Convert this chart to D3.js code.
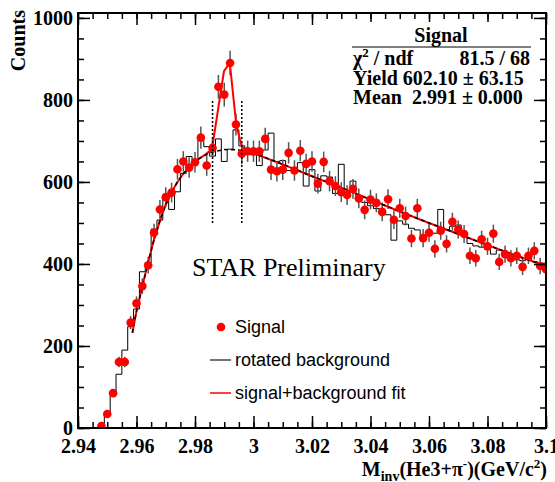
<!DOCTYPE html>
<meta charset="utf-8">
<head>
  <style>
    body { margin: 0; background: #fff; }
    .axis-label { font-family: "Liberation Serif", "Times New Roman", serif; font-weight: bold; font-size: 20px; fill: #000; }
    .stats { font-family: "Liberation Serif", "Times New Roman", serif; font-weight: bold; font-size: 20px; fill: #000; }
    .legend { font-family: "Liberation Sans", Arial, sans-serif; font-size: 18px; fill: #000; }
    .star { font-family: "Liberation Serif", "Times New Roman", serif; font-size: 26px; fill: #000; }
  </style>
</head>
<script src="https://d3js.org/d3.v7.min.js"></script>
<div id="my_dataviz"></div>
<script>
// frame of the pad
const WIDTH = 555;
const HEIGHT = 482;
const LEFT = 78, RIGHT = 546, TOP = 13, BOTTOM = 428;

// bin centres, GeV/c^2 (2 MeV bins)
const massBins = [2.948, 2.950, 2.952, 2.954, 2.956, 2.958, 2.960, 2.962, 2.964, 2.966,
  2.968, 2.970, 2.972, 2.974, 2.976, 2.978, 2.980, 2.982, 2.984, 2.986,
  2.988, 2.990, 2.992, 2.994, 2.996, 2.998, 3.000, 3.002, 3.004, 3.006,
  3.008, 3.010, 3.012, 3.014, 3.016, 3.018, 3.020, 3.022, 3.024, 3.026,
  3.028, 3.030, 3.032, 3.034, 3.036, 3.038, 3.040, 3.042, 3.044, 3.046,
  3.048, 3.050, 3.052, 3.054, 3.056, 3.058, 3.060, 3.062, 3.064, 3.066,
  3.068, 3.070, 3.072, 3.074, 3.076, 3.078, 3.080, 3.082, 3.084, 3.086,
  3.088, 3.090, 3.092, 3.094, 3.096, 3.098, 3.100];

// same-event (signal) counts and errors
const signalCounts = [5, 34, 85, 161, 161, 257, 304, 346, 397, 476,
  533, 563, 574, 631, 650, 635, 648, 708, 640, 683,
  832, 813, 890, 740, 669, 675, 675, 675, 705, 630,
  626, 630, 671, 628, 676, 644, 650, 596, 649, 602,
  590, 575, 568, 583, 560, 532, 557, 549, 527, 558,
  508, 536, 517, 462, 536, 463, 476, 437, 481, 449,
  503, 484, 473, 420, 414, 460, 443, 474, 405, 424,
  414, 420, 393, 420, 432, 395, 387];
const signalErrors = [2, 6, 9, 13, 13, 16, 17, 19, 20, 22,
  23, 24, 24, 25, 25, 25, 25, 27, 25, 26,
  29, 29, 30, 27, 26, 26, 26, 26, 27, 25,
  25, 25, 26, 25, 26, 25, 25, 24, 25, 25,
  24, 24, 24, 24, 24, 23, 24, 23, 23, 24,
  23, 23, 23, 21, 23, 22, 22, 21, 22, 21,
  22, 22, 22, 20, 20, 21, 21, 22, 20, 21,
  20, 20, 20, 20, 21, 20, 20];

// rotated background histogram
const rotatedBkg = [3, 34, 80, 131, 190, 247, 290, 381, 403, 485,
  507, 568, 533, 576, 621, 662, 652, 702, 686, 663,
  705, 650, 680, 727, 688, 678, 666, 640, 678, 719,
  650, 652, 628, 623, 647, 590, 630, 578, 615, 612,
  572, 643, 574, 602, 558, 550, 542, 535, 527, 520,
  458, 505, 497, 487, 483, 466, 471, 475, 533, 483,
  492, 495, 471, 450, 444, 441, 436, 424, 434, 418,
  418, 410, 408, 420, 406, 395, 402];

// fit curves
const bkgFitMass = [2.9586, 2.960, 2.962, 2.964, 2.966, 2.968, 2.970, 2.972, 2.974, 2.976,
  2.978, 2.980, 2.983, 2.986, 2.990, 2.995, 3.000, 3.010, 3.020, 3.030,
  3.040, 3.050, 3.060, 3.070, 3.080, 3.090, 3.100];
const bkgFitCounts = [232, 285, 345, 405, 460, 505, 545, 575, 600, 620,
  636, 650, 664, 673, 679, 678, 670, 643, 614, 586,
  557, 528, 500, 473, 446, 420, 395];
const totalFitMass = [2.9586, 2.960, 2.962, 2.964, 2.966, 2.968, 2.970, 2.972, 2.974, 2.976,
  2.978, 2.980, 2.983, 2.9858, 2.9899, 2.9919, 2.9941, 2.9960, 2.9975, 3.000,
  3.010, 3.020, 3.030, 3.040, 3.050, 3.060, 3.070, 3.080, 3.090, 3.100];
const totalFitCounts = [232, 285, 345, 405, 460, 505, 545, 575, 600, 620,
  636, 650, 664, 680, 870, 890, 740, 686, 677, 670,
  643, 614, 586, 557, 528, 500, 473, 446, 420, 395];

// signal window
const windowEdges = [2.986, 2.996];
const windowRange = [500, 800];

const xTicks = [2.94, 2.96, 2.98, 3.0, 3.02, 3.04, 3.06, 3.08, 3.1];
const xTickLabels = ["2.94", "2.96", "2.98", "3", "3.02", "3.04", "3.06", "3.08", "3.1"];
const yTicks = [0, 200, 400, 600, 800, 1000];
const yTickLabels = ["0", "200", "400", "600", "800", "1000"];

const BIN_HALF = 0.001;

var svg = d3.select("#my_dataviz")
  .append("svg")
  .attr("width", WIDTH)
  .attr("height", HEIGHT)
  .style("display", "block");

svg.append("rect").attr("width", WIDTH).attr("height", HEIGHT).attr("fill", "#fff");

var x = d3.scaleLinear().domain([2.94, 3.1]).range([LEFT, RIGHT]);
var y = d3.scaleLinear().domain([0, 1012]).range([BOTTOM, TOP]);

svg.append("clipPath").attr("id", "frame-clip")
  .append("rect")
  .attr("x", LEFT).attr("y", TOP)
  .attr("width", RIGHT - LEFT).attr("height", BOTTOM - TOP);

var plot = svg.append("g").attr("clip-path", "url(#frame-clip)");

// rotated background as a step histogram
var stepPts = [[massBins[0] - BIN_HALF, 0]];
massBins.forEach((m, i) => {
  stepPts.push([m - BIN_HALF, rotatedBkg[i]]);
  stepPts.push([m + BIN_HALF, rotatedBkg[i]]);
});
plot.append("path")
  .attr("d", d3.line().x(d => x(d[0])).y(d => y(d[1]))(stepPts))
  .attr("fill", "none")
  .attr("stroke", "#000")
  .attr("stroke-width", 1);

// error bars
plot.selectAll(".err")
  .data(massBins)
  .enter()
  .append("line")
  .attr("x1", d => x(d)).attr("x2", d => x(d))
  .attr("y1", (d, i) => y(signalCounts[i] - signalErrors[i]))
  .attr("y2", (d, i) => y(signalCounts[i] + signalErrors[i]))
  .attr("stroke", "#555")
  .attr("stroke-width", 1.5);

// fits: total in red, background dashed black on top
var fitLine = d3.line().x(d => x(d[0])).y(d => y(d[1]));
plot.append("path")
  .attr("d", fitLine(d3.zip(totalFitMass, totalFitCounts)))
  .attr("fill", "none")
  .attr("stroke", "#ff0000")
  .attr("stroke-width", 2);
plot.append("path")
  .attr("d", fitLine(d3.zip(bkgFitMass, bkgFitCounts)))
  .attr("fill", "none")
  .attr("stroke", "#000")
  .attr("stroke-width", 1.5)
  .attr("stroke-dasharray", "4,3");

// signal points
plot.selectAll(".pt")
  .data(massBins)
  .enter()
  .append("circle")
  .attr("cx", d => x(d))
  .attr("cy", (d, i) => y(signalCounts[i]))
  .attr("r", 4.3)
  .attr("fill", "#ff0000");

// signal window (dotted)
svg.selectAll(".win")
  .data(windowEdges)
  .enter()
  .append("line")
  .attr("x1", d => x(d)).attr("x2", d => x(d))
  .attr("y1", y(windowRange[0])).attr("y2", y(windowRange[1]))
  .attr("stroke", "#000")
  .attr("stroke-width", 1.5)
  .attr("stroke-dasharray", "2,2");

// axes with inward ticks on all four sides
function styleAxis(g) {
  g.select(".domain").remove();
  g.selectAll(".tick line").attr("stroke", "#000").attr("stroke-width", 1.5);
  g.selectAll("text").attr("class", "axis-label");
}
var xMinor = d3.range(0, 33).map(i => 2.94 + i * 0.005);
var yMinor = d3.range(0, 21).map(i => i * 50);

svg.append("g").attr("transform", `translate(0,${BOTTOM})`)
  .call(d3.axisBottom(x).tickValues(xMinor).tickSize(-6).tickFormat(""))
  .call(styleAxis);
svg.append("g").attr("transform", `translate(0,${BOTTOM})`)
  .call(d3.axisBottom(x).tickValues(xTicks).tickSize(-12).tickPadding(6)
    .tickFormat((d, i) => xTickLabels[i]))
  .call(styleAxis)
  .selectAll("text").attr("dy", "0.95em");
svg.append("g").attr("transform", `translate(0,${TOP})`)
  .call(d3.axisTop(x).tickValues(xMinor).tickSize(-6).tickFormat(""))
  .call(styleAxis);
svg.append("g").attr("transform", `translate(0,${TOP})`)
  .call(d3.axisTop(x).tickValues(xTicks).tickSize(-12).tickFormat(""))
  .call(styleAxis);

svg.append("g").attr("transform", `translate(${LEFT},0)`)
  .call(d3.axisLeft(y).tickValues(yMinor).tickSize(-6).tickFormat(""))
  .call(styleAxis);
svg.append("g").attr("transform", `translate(${LEFT},0)`)
  .call(d3.axisLeft(y).tickValues(yTicks).tickSize(-12).tickPadding(5)
    .tickFormat((d, i) => yTickLabels[i]))
  .call(styleAxis);
svg.append("g").attr("transform", `translate(${RIGHT},0)`)
  .call(d3.axisRight(y).tickValues(yMinor).tickSize(-6).tickFormat(""))
  .call(styleAxis);
svg.append("g").attr("transform", `translate(${RIGHT},0)`)
  .call(d3.axisRight(y).tickValues(yTicks).tickSize(-12).tickFormat(""))
  .call(styleAxis);

// frame
svg.append("rect")
  .attr("x", LEFT).attr("y", TOP)
  .attr("width", RIGHT - LEFT).attr("height", BOTTOM - TOP)
  .attr("fill", "none")
  .attr("stroke", "#000")
  .attr("stroke-width", 2);

// axis titles
svg.append("text")
  .attr("class", "axis-label")
  .attr("transform", "translate(25,10) rotate(-90)")
  .attr("text-anchor", "end")
  .text("Counts");

var xt = svg.append("text")
  .attr("class", "axis-label")
  .attr("x", 547).attr("y", 476)
  .attr("text-anchor", "end");
xt.append("tspan").text("M");
xt.append("tspan").attr("font-size", 14).attr("dy", 5).text("inv");
xt.append("tspan").attr("dy", -5).text("(He3+\u03c0");
xt.append("tspan").attr("font-size", 13).attr("dy", -8).text("-");
xt.append("tspan").attr("dy", 8).text(")(GeV/c");
xt.append("tspan").attr("font-size", 13).attr("dy", -8).text("2");
xt.append("tspan").attr("dy", 8).text(")");

// stats box
var stats = svg.append("g");
stats.append("rect")
  .attr("x", 350).attr("y", 22).attr("width", 184).attr("height", 86)
  .attr("fill", "#fff");
stats.append("text").attr("class", "stats")
  .attr("x", 441).attr("y", 42).attr("text-anchor", "middle").text("Signal");
stats.append("line")
  .attr("x1", 352).attr("x2", 531).attr("y1", 47).attr("y2", 47)
  .attr("stroke", "#000").attr("stroke-width", 1);
var chi = stats.append("text").attr("class", "stats").attr("x", 353).attr("y", 65);
chi.append("tspan").text("\u03c7");
chi.append("tspan").attr("font-size", 13).attr("dy", -8).text("2");
chi.append("tspan").attr("dy", 8).text(" / ndf");
stats.append("text").attr("class", "stats")
  .attr("x", 530).attr("y", 65).attr("text-anchor", "end").text("81.5 / 68");
stats.append("text").attr("class", "stats")
  .attr("x", 353).attr("y", 85).text("Yield 602.10 \u00b1 63.15");
stats.append("text").attr("class", "stats")
  .attr("x", 353).attr("y", 104).attr("xml:space", "preserve").text("Mean  2.991 \u00b1 0.000");

// STAR Preliminary
svg.append("text").attr("class", "star")
  .attr("x", 192).attr("y", 276).text("STAR Preliminary");

// legend
var legend = svg.append("g");
legend.append("circle").attr("cx", 221).attr("cy", 327).attr("r", 4.3).attr("fill", "#ff0000");
legend.append("text").attr("class", "legend").attr("x", 235).attr("y", 333).text("Signal");
legend.append("line").attr("x1", 210).attr("x2", 231).attr("y1", 360).attr("y2", 360)
  .attr("stroke", "#444").attr("stroke-width", 1.5);
legend.append("text").attr("class", "legend").attr("x", 235).attr("y", 366).text("rotated background");
legend.append("line").attr("x1", 210).attr("x2", 231).attr("y1", 393).attr("y2", 393)
  .attr("stroke", "#ff0000").attr("stroke-width", 1.5);
legend.append("text").attr("class", "legend").attr("x", 235).attr("y", 399).text("signal+background fit");
</script>
